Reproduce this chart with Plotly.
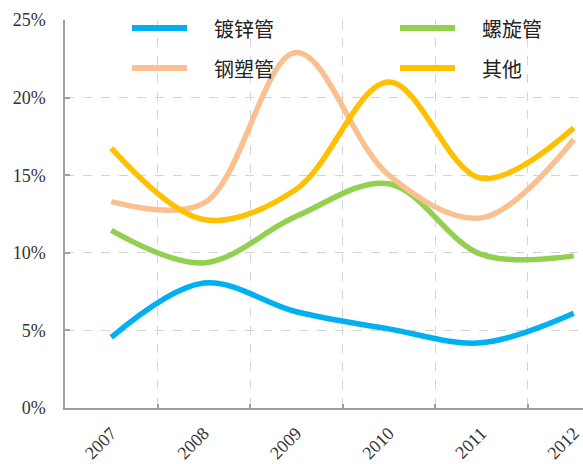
import plotly.graph_objects as go

# Share of output by pipe type, 2007-2012 (%)
years = ["2007", "2008", "2009", "2010", "2011", "2012"]
galvanized = [4.55, 8.05, 6.2, 5.1, 4.2, 6.1]       # 镀锌管
spiral = [11.45, 9.35, 12.35, 14.45, 9.9, 9.8]       # 螺旋管
steel_plastic = [13.3, 13.2, 22.9, 15.0, 12.25, 17.3]  # 钢塑管
others = [16.75, 12.15, 14.1, 21.0, 14.8, 18.05]     # 其他

names = ["镀锌管", "螺旋管", "钢塑管", "其他"]
colors = {"镀锌管": "#00B0F0", "螺旋管": "#92D050", "钢塑管": "#FAC090", "其他": "#FFC000"}
series = {"镀锌管": galvanized, "螺旋管": spiral, "钢塑管": steel_plastic, "其他": others}

W, H = 583, 464
L, R, T, B = 65, 0, 20, 56
pw, ph = W - L - R, H - T - B
cat_w = 92.5  # pixel width per year

xs = list(range(len(years)))
fig = go.Figure()
for name in ["螺旋管", "镀锌管", "钢塑管", "其他"]:
    fig.add_trace(go.Scatter(
        x=xs, y=series[name], mode="lines", name=name,
        line=dict(color=colors[name], width=5.5, shape="spline", smoothing=1.0),
        showlegend=False, hoverinfo="skip",
    ))

num_font = "Liberation Serif, Times New Roman, serif"
cjk_font = "Noto Sans CJK SC, sans-serif"

fig.update_xaxes(
    range=[-0.5, -0.5 + pw / cat_w], automargin=False,
    tickmode="array", tickvals=xs, ticktext=years, tickangle=-45,
    ticks="", showgrid=False, zeroline=False,
    showline=True, linecolor="#a0a0a0", linewidth=1.5,
    tickfont=dict(family=num_font, size=18, color="#333333"),
    ticklabelstandoff=6, ticklabeloverflow="allow",
    minor=dict(tickvals=[0.5, 1.5, 2.5, 3.5, 4.5], showgrid=True,
               griddash="dash", gridcolor="#d4d4d4", gridwidth=1,
               ticks="inside", ticklen=4, tickcolor="#a0a0a0", tickwidth=1.5),
)
fig.update_yaxes(
    range=[0, 25], automargin=False,
    tickmode="linear", tick0=0, dtick=5, ticksuffix="%",
    showgrid=True, griddash="dash", gridcolor="#d4d4d4", gridwidth=1,
    zeroline=False, showline=True, linecolor="#a0a0a0", linewidth=1.5,
    ticks="inside", ticklen=5, tickcolor="#a0a0a0", tickwidth=1.5,
    tickfont=dict(family=num_font, size=18, color="#333333"),
    ticklabelstandoff=14,
)

# Legend drawn as two columns of line samples and labels
def px_x(p):
    return (p - L) / pw

def px_y(p):
    return (H - B - p) / ph

legend_items = [("镀锌管", 132, 28), ("螺旋管", 400, 28), ("钢塑管", 132, 68), ("其他", 400, 68)]
for name, x0, y0 in legend_items:
    fig.add_shape(type="line", xref="paper", yref="paper",
                  x0=px_x(x0), x1=px_x(x0 + 55), y0=px_y(y0), y1=px_y(y0),
                  line=dict(color=colors[name], width=6))
    fig.add_annotation(xref="paper", yref="paper", x=px_x(x0 + 80), y=px_y(y0),
                       text=name, showarrow=False, xanchor="left", yanchor="middle",
                       font=dict(family=cjk_font, size=20, color="#222222"))

fig.update_layout(
    width=W, height=H,
    margin=dict(l=L, r=R, t=T, b=B),
    paper_bgcolor="white", plot_bgcolor="white",
    showlegend=False,
)

fig.write_html("out.html")
